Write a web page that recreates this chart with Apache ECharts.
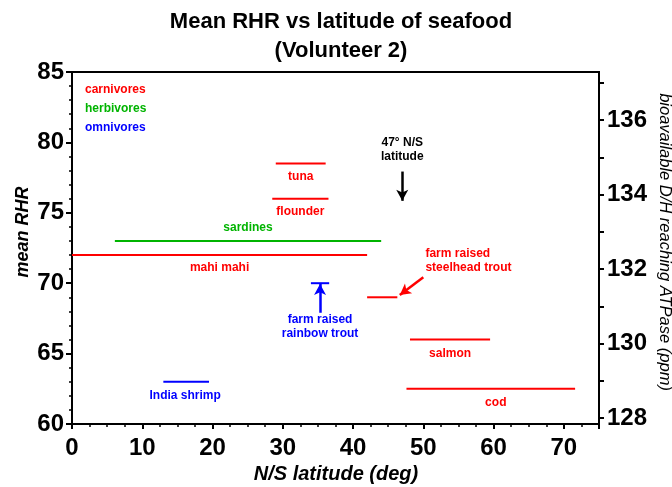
<!DOCTYPE html>
<html>
<head>
<meta charset="utf-8">
<script src="https://cdn.jsdelivr.net/npm/echarts@6/dist/echarts.min.js"></script>
<style>
  html, body { margin: 0; padding: 0; background: #fff; }
  #chart { width: 672px; height: 487px; }
</style>
</head>
<body>
<div id="chart"></div>
<script>
// ---- data ----
const fishNames = ['tuna', 'flounder', 'sardines', 'mahi mahi', 'farm raised rainbow trout', 'farm raised steelhead trout', 'salmon', 'cod', 'India shrimp'];
const latStart  = [29.0, 28.5, 6.1, 0.0, 34.0, 42.0, 48.1, 47.6, 13.0];
const latEnd    = [36.1, 36.5, 44.0, 42.0, 36.6, 46.3, 59.5, 71.6, 19.5];
const meanRHR   = [78.5, 76.0, 73.0, 72.0, 70.0, 69.0, 66.0, 62.5, 63.0];
const diet      = ['carnivores', 'carnivores', 'herbivores', 'carnivores', 'omnivores', 'carnivores', 'carnivores', 'carnivores', 'omnivores'];
const dietGroups = ['carnivores', 'herbivores', 'omnivores'];
const xTickLabels = [0, 10, 20, 30, 40, 50, 60, 70];
const rightTickLabels = [128, 130, 132, 134, 136];
const rightTicks = [128, 129, 130, 131, 132, 133, 134, 135, 136, 137];
const referenceLatitude = 47;

// ---- styling ----
const FONT = '"Liberation Sans", Arial, Helvetica, sans-serif';
const dietColor = { carnivores: '#ff0000', herbivores: '#00b400', omnivores: '#0000ff' };
// label placement per segment (pixel offsets from segment midpoint)
const labelStyle = {
  'tuna': [0, 13], 'flounder': [0, 13], 'sardines': [0, -13], 'mahi mahi': [0, 13],
  'salmon': [0, 14], 'cod': [5, 14], 'India shrimp': [-1, 14]
};

const series = fishNames.map((name, i) => {
  const color = dietColor[diet[i]];
  const s = {
    type: 'line',
    name: name,
    xAxisIndex: 0, yAxisIndex: 0,
    data: [[latStart[i], meanRHR[i]], [latEnd[i], meanRHR[i]]],
    symbol: 'none',
    lineStyle: { color: color, width: 2 },
    silent: true,
    animation: false
  };
  if (labelStyle[name]) {
    s.markPoint = {
      symbol: 'rect', symbolSize: 1, silent: true, animation: false,
      itemStyle: { color: 'rgba(0,0,0,0)' },
      label: {
        show: true, position: 'inside', offset: labelStyle[name], formatter: name,
        color: color, fontSize: 12, fontWeight: 'bold', fontFamily: FONT
      },
      data: [{ coord: [(latStart[i] + latEnd[i]) / 2, meanRHR[i]] }]
    };
  }
  return s;
});

// annotation arrows + texts
function arrowSeries(color, from, to, text, textCoord, align) {
  return {
    type: 'line', data: [], silent: true, animation: false,
    markLine: {
      silent: true, animation: false,
      symbol: ['none', 'arrow'], symbolSize: [9, 11],
      lineStyle: { color: color, width: 2.5, type: 'solid' },
      label: { show: false },
      data: [[{ coord: from }, { coord: to }]]
    },
    markPoint: {
      symbol: 'rect', symbolSize: 1, silent: true, animation: false,
      itemStyle: { color: 'rgba(0,0,0,0)' },
      label: {
        show: true, position: 'inside', formatter: text, align: align,
        color: color, fontSize: 12, fontWeight: 'bold', fontFamily: FONT, lineHeight: 13.5
      },
      data: [{ coord: textCoord }]
    }
  };
}
series.push(arrowSeries('#000000', [referenceLatitude, 77.93], [referenceLatitude, 75.85], '47° N/S\nlatitude', [referenceLatitude, 79.5], 'center'));
series.push(arrowSeries('#0000ff', [35.3, 67.9], [35.3, 69.95], 'farm raised\nrainbow trout', [35.3, 66.9], 'center'));
series.push(arrowSeries('#ff0000', [50.0, 70.42], [46.65, 69.16], 'farm raised\nsteelhead trout', [50.3, 71.6], 'left'));

const axisLabelStyle = { color: '#000', fontSize: 24, fontWeight: 'bold', fontFamily: FONT };

const option = {
  animation: false,
  backgroundColor: '#fff',
  grid: { left: 72, right: 73, top: 72, bottom: 63, show: true, borderColor: '#000', borderWidth: 2, backgroundColor: 'transparent' },
  xAxis: [{
    type: 'value', min: 0, max: 75, interval: 10,
    axisLine: { show: true, onZero: false, lineStyle: { color: '#000', width: 2 } },
    axisTick: { show: true, length: 5, lineStyle: { color: '#000', width: 2 } },
    minorTick: { show: true, splitNumber: 4, length: 3, lineStyle: { color: '#000', width: 1.5 } },
    axisLabel: Object.assign({ margin: 12, customValues: xTickLabels }, axisLabelStyle),
    splitLine: { show: false }
  }],
  yAxis: [{
    type: 'value', position: 'left', min: 60, max: 85, interval: 5,
    axisLine: { show: true, onZero: false, lineStyle: { color: '#000', width: 2 } },
    axisTick: { show: true, length: 6, lineStyle: { color: '#000', width: 2 } },
    minorTick: { show: true, splitNumber: 5, length: 3, lineStyle: { color: '#000', width: 1.5 } },
    axisLabel: Object.assign({ margin: 8 }, axisLabelStyle),
    splitLine: { show: false }
  }, {
    type: 'value', position: 'right', min: 127.84, max: 137.29,
    axisLine: { show: true, onZero: false, lineStyle: { color: '#000', width: 2 } },
    axisTick: { show: true, length: 5, customValues: rightTicks, lineStyle: { color: '#000', width: 2 } },
    axisLabel: Object.assign({ margin: 8, customValues: rightTickLabels }, axisLabelStyle),
    splitLine: { show: false }
  }],
  graphic: [
    { type: 'text', x: 341, y: 7, silent: true,
      style: { text: 'Mean RHR vs latitude of seafood\n(Volunteer 2)', align: 'center', verticalAlign: 'top',
               fontSize: 22, fontWeight: 'bold', fontFamily: FONT, lineHeight: 29, fill: '#000' } },
    { type: 'text', x: 336, y: 474, silent: true,
      style: { text: 'N/S latitude (deg)', align: 'center', verticalAlign: 'middle',
               fontSize: 20, fontWeight: 'bold', fontStyle: 'italic', fontFamily: FONT, fill: '#000' } },
    { type: 'text', x: 23, y: 232, rotation: Math.PI / 2, silent: true,
      style: { text: 'mean RHR', align: 'center', verticalAlign: 'middle',
               fontSize: 18, fontWeight: 'bold', fontStyle: 'italic', fontFamily: FONT, fill: '#000' } },
    { type: 'text', x: 665, y: 242, rotation: -Math.PI / 2, silent: true,
      style: { text: 'bioavailable D/H reaching ATPase (ppm)', align: 'center', verticalAlign: 'middle',
               fontSize: 16.5, fontStyle: 'italic', fontFamily: FONT, fill: '#000' } }
  ].concat(dietGroups.map((g, k) => ({
    type: 'text', x: 85, y: 90 + k * 19, silent: true,
    style: { text: g, align: 'left', verticalAlign: 'middle', fontSize: 12, fontWeight: 'bold', fontFamily: FONT, fill: dietColor[g] }
  }))),
  series: series
};

const chart = echarts.init(document.getElementById('chart'), null, { renderer: 'canvas' });
chart.setOption(option);
</script>
</body>
</html>
